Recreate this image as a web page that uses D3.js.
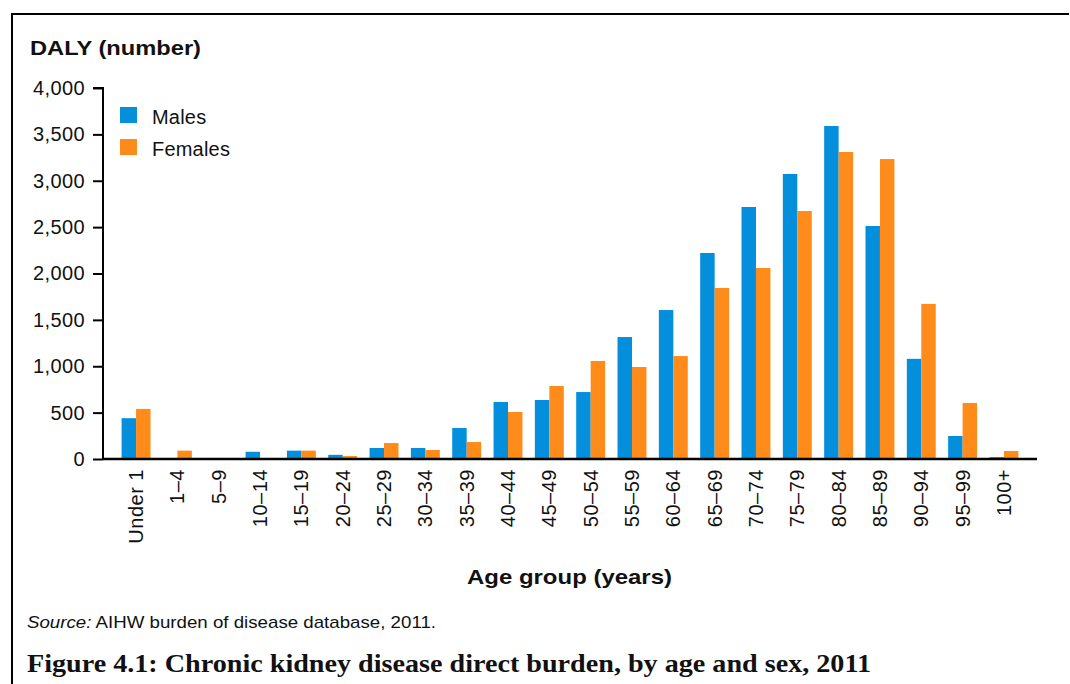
<!DOCTYPE html>
<html>
<head>
<meta charset="utf-8">
<script src="https://cdn.jsdelivr.net/npm/d3@7"></script>
<style>
  body { margin: 0; background: #fff; }
  svg { display: block; }
</style>
</head>
<body>
<div id="chart"></div>
<script>
var ageGroups = ["Under 1", "1\u20134", "5\u20139", "10\u201314", "15\u201319", "20\u201324", "25\u201329", "30\u201334",
  "35\u201339", "40\u201344", "45\u201349", "50\u201354", "55\u201359", "60\u201364", "65\u201369", "70\u201374",
  "75\u201379", "80\u201384", "85\u201389", "90\u201394", "95\u201399", "100+"];
var males   = [440, 0, 0, 78, 90, 45, 119, 119, 334, 615, 636, 722, 1315, 1606, 2221, 2717, 3073, 3590, 2512, 1080, 248, 20];
var females = [540, 90, 0, 0, 90, 32, 172, 97, 183, 507, 787, 1057, 992, 1110, 1844, 2059, 2674, 3310, 3234, 1672, 604, 86];
var seriesNames = ["Males", "Females"];
var yTicks = [0, 500, 1000, 1500, 2000, 2500, 3000, 3500, 4000];

var w = 1070, h = 684;
var colors = {Males: "#038fdb", Females: "#ff8c1a"};
var plotL = 103, plotR = 1037, plotT = 88, plotB = 459;
var sans = "Liberation Sans, Arial, sans-serif";

var svg = d3.select("#chart").append("svg")
  .attr("width", w)
  .attr("height", h);

// frame (top + left only)
svg.append("path")
  .attr("d", "M12,684 V14 H1069")
  .attr("fill", "none")
  .attr("stroke", "#000")
  .attr("stroke-width", 2);

var x = d3.scaleBand()
  .domain(ageGroups)
  .range([plotL, plotR])
  .paddingInner(0.3)
  .paddingOuter(0.45);

var x1 = d3.scaleBand()
  .domain(seriesNames)
  .range([0, x.bandwidth()]);

var y = d3.scaleLinear()
  .domain([0, 4000])
  .range([plotB, plotT]);

var rows = ageGroups.map(function(a, i) {
  return {age: a, Males: males[i], Females: females[i]};
});

var groups = svg.selectAll(".grp")
  .data(rows)
  .enter()
  .append("g")
  .attr("class", "grp")
  .attr("transform", function(d) { return "translate(" + x(d.age) + ",0)"; });

groups.selectAll("rect")
  .data(function(d) {
    return seriesNames.map(function(s) { return {key: s, value: d[s]}; });
  })
  .enter()
  .append("rect")
  .attr("x", function(d) { return x1(d.key); })
  .attr("width", x1.bandwidth())
  .attr("y", function(d) { return y(d.value); })
  .attr("height", function(d) { return y(0) - y(d.value); })
  .attr("fill", function(d) { return colors[d.key]; });

// y axis
var yAxis = svg.append("g")
  .attr("transform", "translate(" + plotL + ",0)")
  .call(d3.axisLeft(y).tickValues(yTicks).tickSize(10).tickPadding(8)
    .tickFormat(d3.format(",")));
yAxis.select(".domain").attr("stroke-width", 2).attr("d", "M-10," + plotT + "H0V" + plotB);
yAxis.selectAll(".tick line").attr("stroke-width", 2);
yAxis.selectAll("text")
  .attr("font-family", sans)
  .attr("font-size", 20)
  .attr("letter-spacing", 0.4)
  .attr("fill", "#111");

// x axis
var xAxis = svg.append("g")
  .attr("transform", "translate(0," + plotB + ")")
  .call(d3.axisBottom(x).tickSize(0).tickPadding(0));
xAxis.select(".domain").attr("stroke-width", 2.5).attr("d", "M" + plotL + ",0H" + plotR);
xAxis.selectAll("text")
  .attr("font-family", sans)
  .attr("font-size", 20)
  .attr("letter-spacing", 0.5)
  .attr("fill", "#111")
  .attr("text-anchor", "end")
  .attr("transform", "rotate(-90)")
  .attr("x", -10)
  .attr("y", 0)
  .attr("dy", "0.35em");

// legend
var legend = svg.selectAll(".leg")
  .data(seriesNames)
  .enter()
  .append("g")
  .attr("class", "leg")
  .attr("transform", function(d, i) { return "translate(120," + (107 + i * 32) + ")"; });
legend.append("rect")
  .attr("width", 17)
  .attr("height", 16)
  .attr("fill", function(d) { return colors[d]; });
legend.append("text")
  .attr("x", 32)
  .attr("y", 17)
  .attr("font-family", sans)
  .attr("font-size", 20)
  .attr("letter-spacing", 0.2)
  .attr("fill", "#111")
  .text(function(d) { return d; });

// titles
svg.append("text")
  .attr("x", 30)
  .attr("y", 55)
  .attr("font-family", sans)
  .attr("font-size", 21)
  .attr("font-weight", "bold")
  .attr("fill", "#111")
  .attr("textLength", 171)
  .attr("lengthAdjust", "spacingAndGlyphs")
  .text("DALY (number)");

svg.append("text")
  .attr("x", 467)
  .attr("y", 584)
  .attr("font-family", sans)
  .attr("font-size", 21)
  .attr("font-weight", "bold")
  .attr("fill", "#111")
  .attr("textLength", 205)
  .attr("lengthAdjust", "spacingAndGlyphs")
  .text("Age group (years)");

var src = svg.append("text")
  .attr("x", 27)
  .attr("y", 628)
  .attr("font-family", sans)
  .attr("font-size", 17)
  .attr("fill", "#111")
  .attr("textLength", 409)
  .attr("lengthAdjust", "spacingAndGlyphs");
src.append("tspan").attr("font-style", "italic").text("Source:");
src.append("tspan").text(" AIHW burden of disease database, 2011.");

svg.append("text")
  .attr("x", 27)
  .attr("y", 672)
  .attr("font-family", "Liberation Serif, DejaVu Serif, serif")
  .attr("font-size", 25)
  .attr("font-weight", "bold")
  .attr("fill", "#111")
  .attr("textLength", 844)
  .attr("lengthAdjust", "spacingAndGlyphs")
  .text("Figure 4.1: Chronic kidney disease direct burden, by age and sex, 2011");
</script>
</body>
</html>
